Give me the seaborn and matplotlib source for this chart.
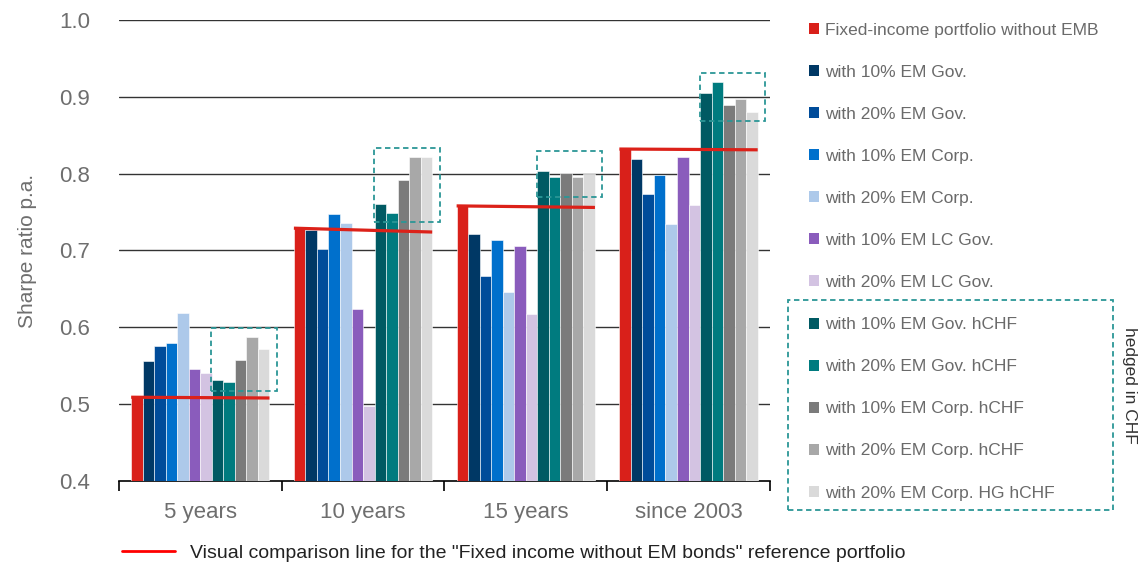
import pandas as pd
import seaborn as sns
import matplotlib.pyplot as plt
from matplotlib.patches import Patch, Rectangle
from matplotlib.lines import Line2D

# data
periods = ['5 years', '10 years', '15 years', 'since 2003']
series = ['Fixed-income portfolio without EMB',
          'with 10% EM Gov.', 'with 20% EM Gov.',
          'with 10% EM Corp.', 'with 20% EM Corp.',
          'with 10% EM LC Gov.', 'with 20% EM LC Gov.',
          'with 10% EM Gov. hCHF', 'with 20% EM Gov. hCHF',
          'with 10% EM Corp. hCHF', 'with 20% EM Corp. hCHF',
          'with 20% EM Corp. HG hCHF']
fixed_income = [0.509, 0.729, 0.758, 0.832]
em_gov_10 = [0.556, 0.726, 0.722, 0.819]
em_gov_20 = [0.576, 0.702, 0.667, 0.774]
em_corp_10 = [0.579, 0.748, 0.714, 0.798]
em_corp_20 = [0.618, 0.736, 0.646, 0.735]
em_lc_10 = [0.546, 0.624, 0.706, 0.822]
em_lc_20 = [0.540, 0.497, 0.617, 0.759]
gov_hchf_10 = [0.531, 0.760, 0.803, 0.905]
gov_hchf_20 = [0.529, 0.749, 0.795, 0.919]
corp_hchf_10 = [0.558, 0.792, 0.801, 0.889]
corp_hchf_20 = [0.587, 0.821, 0.795, 0.897]
corp_hg_hchf_20 = [0.572, 0.821, 0.800, 0.880]
# comparison line end (slightly sloped in the original)
comparison_end = [0.508, 0.724, 0.756, 0.831]

colors = ['#d9201a', '#003865', '#004c9a', '#0070cc', '#adc9ea', '#8a5cbc',
          '#d3c3e2', '#005a63', '#007b7f', '#7b7b7b', '#a8a8a8', '#dadada']

all_values = [fixed_income, em_gov_10, em_gov_20, em_corp_10, em_corp_20, em_lc_10,
              em_lc_20, gov_hchf_10, gov_hchf_20, corp_hchf_10, corp_hchf_20, corp_hg_hchf_20]
rows = []
for name, vals in zip(series, all_values):
    for p, v in zip(periods, vals):
        rows.append({'period': p, 'series': name, 'sharpe': v})
df = pd.DataFrame(rows)

sns.set_theme(style='white')
plt.rcParams['font.family'] = ['Liberation Sans', 'DejaVu Sans']

fig = plt.figure(figsize=(11.46, 5.65), dpi=100)
ax = fig.add_axes([0.1038, 0.1487, 0.568, 0.816])

group_w = 0.85
sns.barplot(data=df, x='period', y='sharpe', hue='series', order=periods, hue_order=series,
            palette=colors, saturation=1, width=group_w, gap=0, dodge=True, legend=False,
            edgecolor='white', linewidth=0.4, ax=ax, zorder=3)

ax.set_ylim(0.4, 1.0)
ax.set_xlim(-0.5, 3.5)
ax.set_yticks([0.4, 0.5, 0.6, 0.7, 0.8, 0.9, 1.0])
ax.set_yticklabels([f'{t:.1f}' for t in ax.get_yticks()])
for t in [0.5, 0.6, 0.7, 0.8, 0.9, 1.0]:
    ax.axhline(t, color='#333333', lw=1.0, zorder=1)

for s in ['left', 'right', 'top']:
    ax.spines[s].set_visible(False)
ax.spines['bottom'].set_color('black')
ax.spines['bottom'].set_linewidth(1.2)
ax.set_xticks([-0.5, 0.5, 1.5, 2.5, 3.5], minor=True)
ax.tick_params(axis='x', which='minor', length=7, width=1.2, color='black', direction='out', bottom=True)
ax.tick_params(axis='x', which='major', length=0, pad=15, labelsize=16, labelcolor='#6e6e6e')
ax.tick_params(axis='y', length=0, pad=21, labelsize=16, labelcolor='#6e6e6e')
ax.set_xlabel('')
ax.set_ylabel('Sharpe ratio p.a.', fontsize=15, color='#6e6e6e', labelpad=16)

bar_w = group_w / len(series)
for i in range(len(periods)):
    left = i - group_w / 2
    right = i + group_w / 2
    # red comparison line
    ax.plot([left, right], [fixed_income[i], comparison_end[i]], color='#dc2119', lw=2.3,
            zorder=5, solid_capstyle='butt')
    # dashed box around the hedged bars
    hedged = [gov_hchf_10[i], gov_hchf_20[i], corp_hchf_10[i], corp_hchf_20[i], corp_hg_hchf_20[i]]
    lo, hi = min(hedged) - 0.012, max(hedged) + 0.012
    if hi - lo < 0.06:
        mid = (hi + lo) / 2
        lo, hi = mid - 0.03, mid + 0.03
    bx0 = left + 7 * bar_w - 0.003
    bx1 = i + 0.47
    ax.add_patch(Rectangle((bx0, lo), bx1 - bx0, hi - lo, fill=False, edgecolor='#2b9696',
                           lw=1.3, linestyle=(0, (3, 2)), zorder=6, clip_on=False))

# legend on the right
handles = [Patch(facecolor=c, edgecolor='none') for c in colors]
leg = fig.legend(handles, series, loc='upper left', bbox_to_anchor=(0.706, 0.96),
                 frameon=False, fontsize=12.5, handlelength=0.6, handleheight=0.6,
                 handletextpad=0.3, labelspacing=1.56, borderpad=0, borderaxespad=0)
for t in leg.get_texts():
    t.set_color('#6a6a6a')

# hedged box
fig.patches.append(Rectangle((788 / 1146, 1 - 510 / 565), 325 / 1146, 210 / 565,
                             transform=fig.transFigure, fill=False, edgecolor='#2b9696',
                             lw=1.3, linestyle=(0, (3, 2))))
fig.text(1130 / 1146, 1 - 385 / 565, 'hedged in CHF', rotation=-90, fontsize=12.5,
         color='#333333', ha='center', va='center')

# bottom legend for comparison line
leg2 = fig.legend([Line2D([0], [0], color='#ff0000', lw=2)],
                  ['Visual comparison line for the "Fixed income without EM bonds" reference portfolio'],
                  loc='center left', bbox_to_anchor=(122 / 1146, 1 - 553 / 565), frameon=False,
                  fontsize=14, handlelength=2.72, handletextpad=0.77, borderpad=0, borderaxespad=0)
for t in leg2.get_texts():
    t.set_color('#222222')

fig.savefig('out.png', dpi=100)
